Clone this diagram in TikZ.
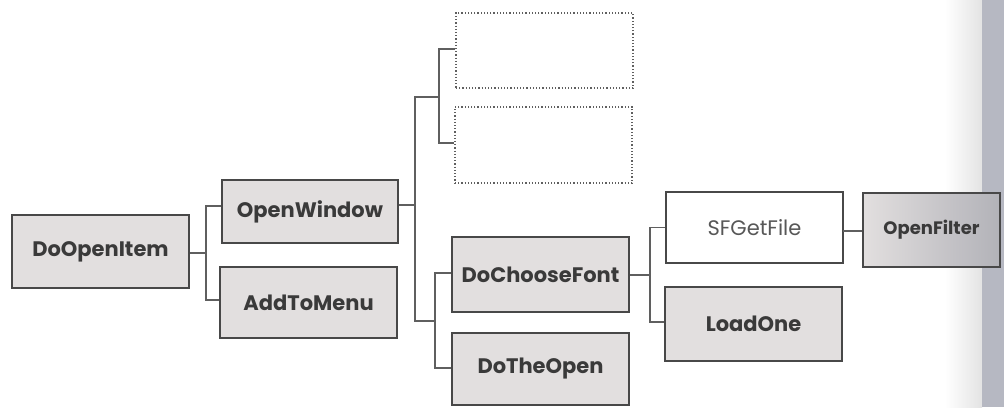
\documentclass[tikz,border=0pt]{standalone}
\usepackage{fontspec}
\setmainfont{Poppins}
\usetikzlibrary{calc}
\definecolor{boxfill}{RGB}{226,223,223}
\definecolor{boxline}{RGB}{72,72,72}
\definecolor{txt}{RGB}{58,58,58}
\definecolor{conncol}{RGB}{95,95,95}
\definecolor{edgecol}{RGB}{182,184,194}
\definecolor{ofright}{RGB}{178,178,184}
\tikzset{
  box/.style={draw=boxline, line width=1.8pt, fill=boxfill, inner sep=0pt,
    font=\fontsize{21}{24}\selectfont\bfseries, text=txt},
  plainbox/.style={box, fill=white, font=\fontsize{21}{24}\selectfont, text=txt!85},
  emptybox/.style={draw=conncol, line width=1.2pt, dotted, fill=none, inner sep=0pt},
  conn/.style={draw=conncol, line width=1.4pt},
}
\begin{document}
\begin{tikzpicture}[x=1pt,y=-1pt]
\useasboundingbox (0,0) rectangle (1004,407);
% scanned page edge
\shade[left color=white, right color=gray!22] (945,0) rectangle (982,407);
\fill[edgecol] (982,0) rectangle (1004,407);
% nodes
\node[box, minimum width=177pt, minimum height=73pt] (doi) at (100.5,251.5) {DoOpenItem};
\node[box, minimum width=176pt, minimum height=63pt] (ow) at (310,211.5) {OpenWindow};
\node[box, minimum width=177pt, minimum height=71pt] (atm) at (308.5,302.5) {AddToMenu};
\node[emptybox, minimum width=177pt, minimum height=75pt] (d1) at (544.5,50.5) {};
\node[emptybox, minimum width=177pt, minimum height=76pt] (d2) at (543.5,145) {};
\node[box, minimum width=177pt, minimum height=75pt] (dcf) at (540.5,274.5) {DoChooseFont};
\node[box, minimum width=177pt, minimum height=72pt] (dto) at (540.5,369) {DoTheOpen};
\node[plainbox, minimum width=177pt, minimum height=71pt] (sfg) at (754.5,227.5) {SFGetFile};
\node[box, minimum width=177pt, minimum height=74pt] (lo) at (753.5,324) {LoadOne};
\node[box, minimum width=137pt, minimum height=74pt, left color=boxfill, right color=ofright,
  font=\fontsize{18}{21}\selectfont\bfseries] (of) at (931.5,230) {OpenFilter};
% junction coordinates
\coordinate (ja) at (206,253);
\coordinate (jb1) at (415,97);
\coordinate (jb2) at (415,321);
\coordinate (jbo) at (415,205);
\coordinate (jc) at (439,97);
\coordinate (jd) at (435,321);
\coordinate (je) at (650,275);
\coordinate (jf) at (843,231);
% connectors
\draw[conn] (doi.east |- ja) -- (ja);
\draw[conn] ([yshift=5.5pt]ow.west) -| (ja) |- ([yshift=2.5pt]atm.west);
\draw[conn] (ow.east |- jbo) -- (jbo);
\draw[conn] (jc) -- (jb1) -- (jb2) -- (jd);
\draw[conn] ([yshift=1.5pt]d1.west) -| (jc) |- ([yshift=2pt]d2.west);
\draw[conn] ([yshift=1.5pt]dcf.west) -| (jd) |- ([yshift=1pt]dto.west);
\draw[conn] (dcf.east |- je) -- (je);
\draw[conn] (sfg.west) -| (je) |- ([yshift=2pt]lo.west);
\draw[conn] (jf) -- (of.west |- jf);
\end{tikzpicture}
\end{document}
